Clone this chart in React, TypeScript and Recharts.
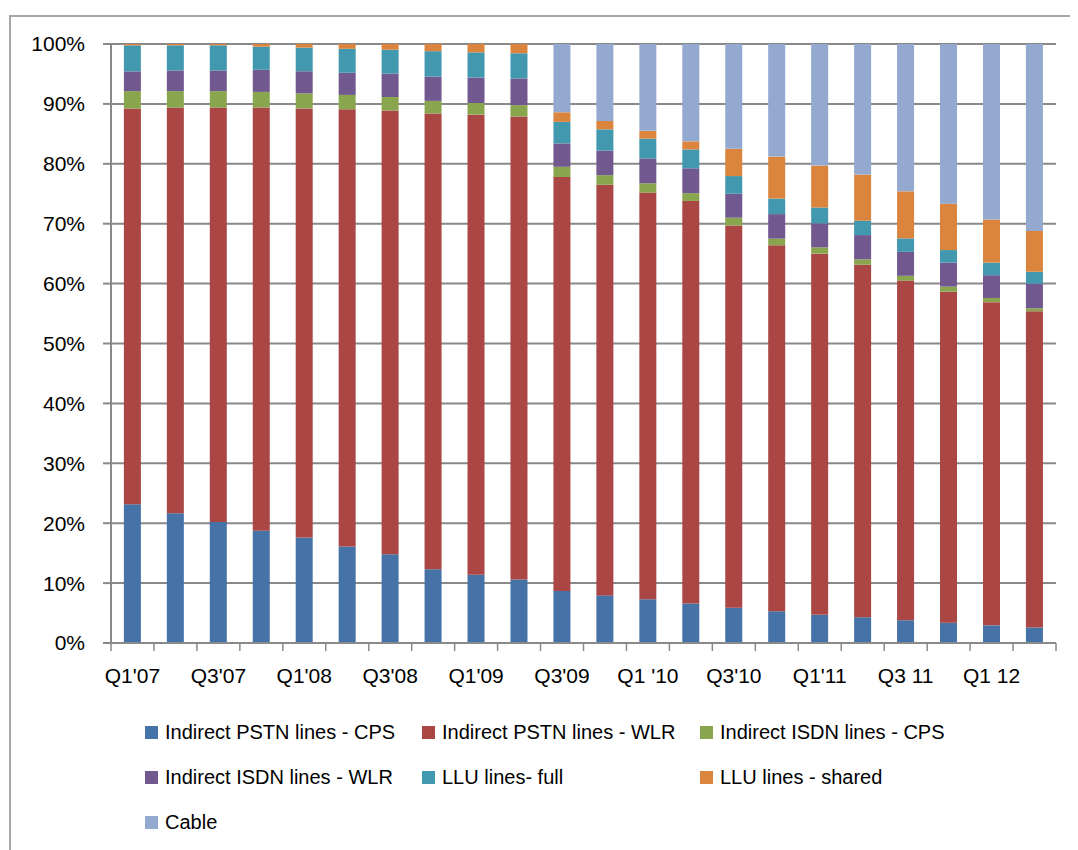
import { BarChart, Bar, XAxis, YAxis, CartesianGrid, Legend } from "recharts"

// quarter labels, only every other one is printed under the axis
const quarters = [
  "Q1'07", "Q2'07", "Q3'07", "Q4'07",
  "Q1'08", "Q2'08", "Q3'08", "Q4'08",
  "Q1'09", "Q2'09", "Q3'09", "Q4'09",
  "Q1 '10", "Q2 '10", "Q3'10", "Q4'10",
  "Q1'11", "Q2'11", "Q3 11", "Q4 11",
  "Q1 12", "Q2 12",
]

// share of lines per quarter, in percent
const pstnCps = [23.15, 21.65, 20.2, 18.75, 17.6, 16.1, 14.8, 12.3, 11.4, 10.6, 8.7, 7.95, 7.3, 6.6, 5.9, 5.3, 4.7, 4.3, 3.8, 3.4, 2.95, 2.6]
const pstnWlr = [66.1, 67.75, 69.2, 70.65, 71.65, 73.0, 74.1, 76.1, 76.8, 77.3, 69.1, 68.55, 67.9, 67.2, 63.8, 61.1, 60.3, 58.85, 56.7, 55.25, 53.95, 52.9]
const isdnCps = [2.9, 2.75, 2.75, 2.6, 2.5, 2.4, 2.25, 2.1, 1.95, 1.9, 1.7, 1.6, 1.55, 1.3, 1.3, 1.1, 1.05, 0.9, 0.8, 0.85, 0.7, 0.5]
const isdnWlr = [3.3, 3.45, 3.45, 3.7, 3.7, 3.7, 3.9, 4.05, 4.25, 4.45, 3.9, 4.1, 4.15, 4.15, 4.0, 4.1, 4.0, 4.05, 4.0, 4.0, 3.8, 4.1]
const lluFull = [4.35, 4.2, 4.2, 3.85, 3.95, 4.0, 4.0, 4.25, 4.2, 4.2, 3.6, 3.55, 3.3, 3.15, 2.95, 2.6, 2.65, 2.4, 2.25, 2.1, 2.1, 2.0]
const lluShared = [0.22, 0.22, 0.22, 0.45, 0.6, 0.8, 0.95, 1.2, 1.4, 1.55, 1.6, 1.4, 1.3, 1.35, 4.55, 7.0, 7.0, 7.7, 7.85, 7.75, 7.2, 6.8]
const cable = [0, 0, 0, 0, 0, 0, 0, 0, 0, 0, 11.4, 12.85, 14.5, 16.25, 17.5, 18.8, 20.3, 21.8, 24.6, 26.65, 29.3, 31.3]

const seriesKeys = ["pstnCps", "pstnWlr", "isdnCps", "isdnWlr", "lluFull", "lluShared", "cable"]
const seriesNames = [
  "Indirect PSTN lines - CPS",
  "Indirect PSTN lines - WLR",
  "Indirect ISDN lines - CPS",
  "Indirect ISDN lines - WLR",
  "LLU lines- full",
  "LLU lines - shared",
  "Cable",
]
const seriesColors = ["#4572A7", "#AA4643", "#89A54E", "#71588F", "#4198AF", "#DB843D", "#93A9CF"]
const seriesValues = [pstnCps, pstnWlr, isdnCps, isdnWlr, lluFull, lluShared, cable]

const yTicks = [0, 0.1, 0.2, 0.3, 0.4, 0.5, 0.6, 0.7, 0.8, 0.9, 1]

const data = quarters.map((quarter, i) => {
  const row: Record<string, string | number> = { quarter }
  seriesKeys.forEach((key, s) => {
    row[key] = seriesValues[s][i]
  })
  return row
})

const W = 1070
const H = 842
const MARGIN = { top: 36, right: 22, left: 0, bottom: 0 }
const Y_AXIS_W = 103
const PLOT_W = W - MARGIN.right - MARGIN.left - Y_AXIS_W
const BAND = PLOT_W / quarters.length
const GRAY = "#898989"
const FONT = "'Liberation Sans', Arial, sans-serif"

function QuarterTick(props: any) {
  const { x, y, payload, index } = props
  const left = x - BAND / 2
  return (
    <g>
      <line x1={left} x2={left} y1={y} y2={y + 8} stroke={GRAY} strokeWidth={1.5} />
      {index === quarters.length - 1 && (
        <line x1={x + BAND / 2} x2={x + BAND / 2} y1={y} y2={y + 8} stroke={GRAY} strokeWidth={1.5} />
      )}
      {index % 2 === 0 && (
        <text x={x} y={y + 40} textAnchor="middle" fontSize={21} fill="#000" fontFamily={FONT}>
          {payload.value}
        </text>
      )}
    </g>
  )
}

// legend in series order, three per row
function LegendGrid() {
  return (
    <div
      style={{
        display: "grid",
        gridTemplateColumns: "277px 278px 277px",
        gridAutoRows: "45px",
        paddingLeft: 137,
        paddingBottom: 5,
        fontFamily: FONT,
        fontSize: 20,
        color: "#000",
      }}
    >
      {seriesNames.map((name, s) => (
        <div key={name} style={{ display: "flex", alignItems: "center", whiteSpace: "nowrap" }}>
          <span style={{ width: 13, height: 13, background: seriesColors[s], marginRight: 7, flex: "none" }} />
          <span>{name}</span>
        </div>
      ))}
    </div>
  )
}

export default function App() {
  return (
    <div style={{ position: "relative", width: W, height: H, overflow: "hidden" }}>
      <div
        style={{
          position: "absolute",
          left: 1,
          top: 7,
          width: 1200,
          height: 1000,
          border: "2px solid #a6a6a6",
        }}
      />
      <div style={{ position: "absolute", left: 0, top: 0 }}>
        <BarChart
          width={W}
          height={H}
          data={data}
          margin={MARGIN}
          stackOffset="expand"
          barCategoryGap="30%"
        >
          <CartesianGrid vertical={false} stroke={GRAY} strokeWidth={2} />
          <XAxis
            dataKey="quarter"
            interval={0}
            height={67}
            tickSize={0}
            tickMargin={0}
            tickLine={false}
            axisLine={{ stroke: GRAY, strokeWidth: 2 }}
            tick={<QuarterTick />}
          />
          <YAxis
            type="number"
            domain={[0, 1]}
            ticks={yTicks}
            width={Y_AXIS_W}
            tickSize={8}
            tickMargin={18}
            tickLine={{ stroke: GRAY, strokeWidth: 2 }}
            axisLine={{ stroke: GRAY, strokeWidth: 2 }}
            tickFormatter={(v: number) => `${Math.round(v * 100)}%`}
            tick={{ fontSize: 21, fill: "#000", fontFamily: FONT }}
          />
          <Legend verticalAlign="bottom" content={<LegendGrid />} />
          {seriesKeys.map((key, s) => (
            <Bar
              key={key}
              dataKey={key}
              name={seriesNames[s]}
              stackId="lines"
              fill={seriesColors[s]}
              isAnimationActive={false}
            />
          ))}
        </BarChart>
      </div>
    </div>
  )
}
